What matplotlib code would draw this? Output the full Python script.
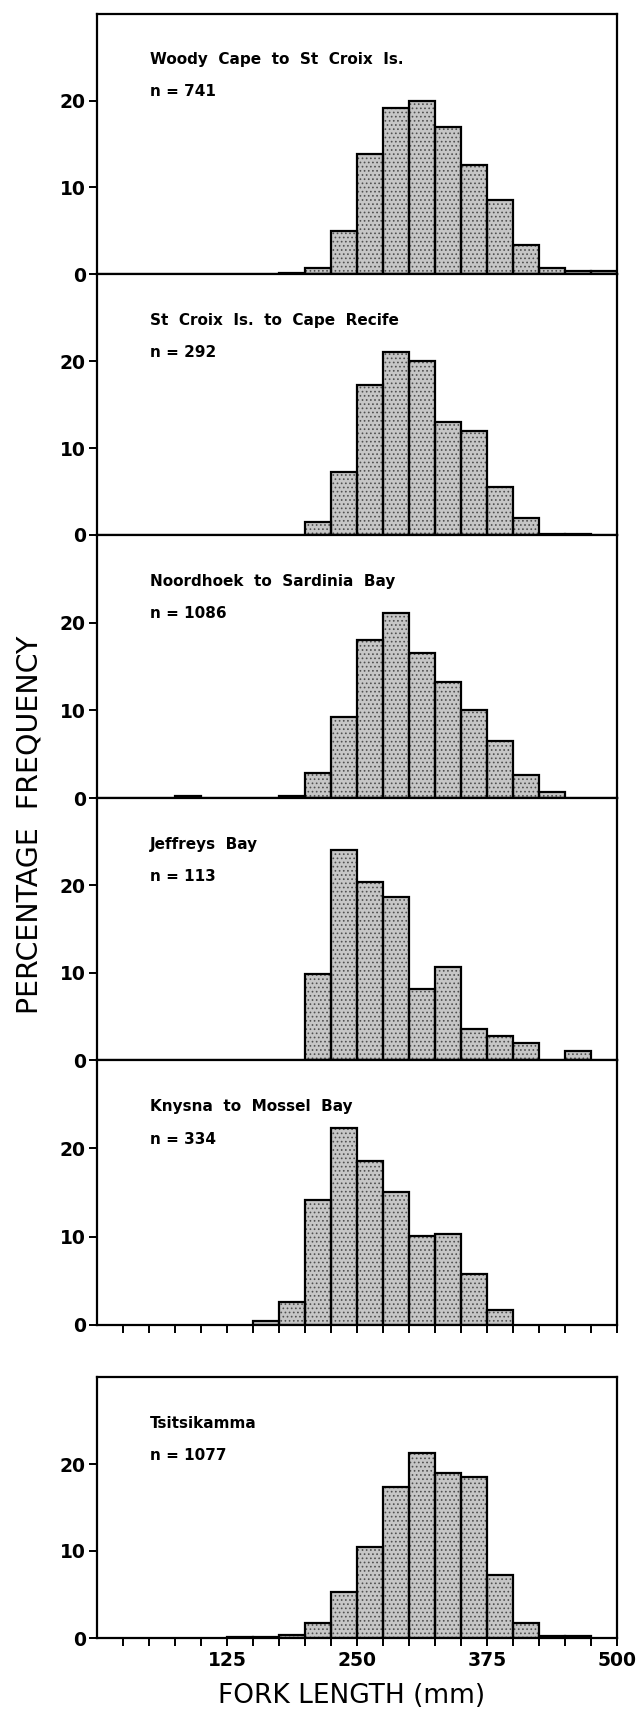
from matplotlib import pyplot as plt
import numpy as np

plt.rcParams['font.family'] = 'DejaVu Sans'
plt.rcParams['hatch.linewidth'] = 0.7

# 25 mm fork-length classes, 0-500 mm
bin_edges = np.arange(0, 500, 25)
bin_width = 25

regions = [
    'Woody  Cape  to  St  Croix  Is.',
    'St  Croix  Is.  to  Cape  Recife',
    'Noordhoek  to  Sardinia  Bay',
    'Jeffreys  Bay',
    'Knysna  to  Mossel  Bay',
    'Tsitsikamma',
]
sample_sizes = [741, 292, 1086, 113, 334, 1077]

# percentage frequency per length class
woody_cape = [0, 0, 0, 0, 0, 0, 0, 0.15, 0.7, 5.0, 13.9, 19.2, 20.0, 17.0, 12.6, 8.5, 3.3, 0.65, 0.3, 0.3]
st_croix = [0, 0, 0, 0, 0, 0, 0, 0, 1.5, 7.2, 17.2, 21.0, 20.0, 13.0, 12.0, 5.5, 1.9, 0.15, 0.15, 0]
noordhoek = [0, 0, 0, 0.2, 0, 0, 0, 0.25, 2.9, 9.2, 18.0, 21.1, 16.5, 13.2, 10.0, 6.5, 2.6, 0.7, 0, 0]
jeffreys_bay = [0, 0, 0, 0, 0, 0, 0, 0, 9.8, 24.0, 20.4, 18.7, 8.1, 10.7, 3.6, 2.8, 1.9, 0, 1.0, 0]
knysna = [0, 0, 0, 0, 0, 0, 0.4, 2.6, 14.1, 22.3, 18.6, 15.1, 10.1, 10.3, 5.8, 1.7, 0, 0, 0, 0]
tsitsikamma = [0, 0, 0, 0, 0, 0.15, 0.15, 0.3, 1.75, 5.3, 10.5, 17.3, 21.3, 19.0, 18.5, 7.2, 1.75, 0.2, 0.2, 0]

frequencies = [woody_cape, st_croix, noordhoek, jeffreys_bay, knysna, tsitsikamma]

y_ticks = [0, 10, 20]
x_labelled = [125, 250, 375, 500]

W, H = 643, 1718
LEFT, RIGHT = 97, 617
# (top, bottom) of each panel in pixels
panel_px = [(14, 274), (274, 535), (535, 798), (798, 1060), (1060, 1325), (1377, 1638)]


def draw_panel(ax, freq, region, n, xticks=False, xlabels=False):
    freq = np.asarray(freq)
    keep = freq > 0
    ax.bar(bin_edges[keep], freq[keep], width=bin_width, align='edge',
           color='#c6c6c6', edgecolor='#505050', hatch='....', linewidth=0, zorder=2)
    ax.bar(bin_edges[keep], freq[keep], width=bin_width, align='edge',
           fill=False, edgecolor='black', linewidth=1.6, zorder=3)

    ax.set_xlim(0, 500)
    ax.set_ylim(0, 30)
    for s in ax.spines.values():
        s.set_linewidth(1.6)
        s.set_zorder(4)

    ax.set_yticks(y_ticks)
    ax.set_yticklabels([str(t) for t in y_ticks], fontweight='bold')
    ax.tick_params(axis='y', direction='out', length=6, width=1.4, labelsize=13.5, pad=2)

    if xticks:
        ax.set_xticks(x_labelled)
        ax.set_xticks(np.arange(25, 500, 25), minor=True)
        ax.tick_params(axis='x', which='both', direction='out', length=6, width=1.4,
                       labelsize=13.5, pad=3, labelbottom=xlabels)
        if xlabels:
            ax.set_xticklabels([str(t) for t in x_labelled], fontweight='bold')
    else:
        ax.tick_params(axis='x', which='both', bottom=False, labelbottom=False)

    ax.text(51, 24.7, region, fontsize=11, fontweight='bold', va='center', ha='left')
    ax.text(51, 21.0, 'n = %d' % n, fontsize=11, fontweight='bold', va='center', ha='left')


fig = plt.figure(figsize=(W / 100, H / 100), dpi=100)

for i, (top, bottom) in enumerate(panel_px):
    ax = fig.add_axes([LEFT / W, 1 - bottom / H, (RIGHT - LEFT) / W, (bottom - top) / H])
    draw_panel(ax, frequencies[i], regions[i], sample_sizes[i],
               xticks=(i >= 4), xlabels=(i == 5))

fig.text(30 / W, 1 - 825 / H, 'PERCENTAGE  FREQUENCY', rotation=90,
         fontsize=20.5, ha='center', va='center')
fig.text(352 / W, 1 - 1696 / H, 'FORK LENGTH (mm)', fontsize=19, ha='center', va='center')

fig.savefig('out.png', dpi=100)
